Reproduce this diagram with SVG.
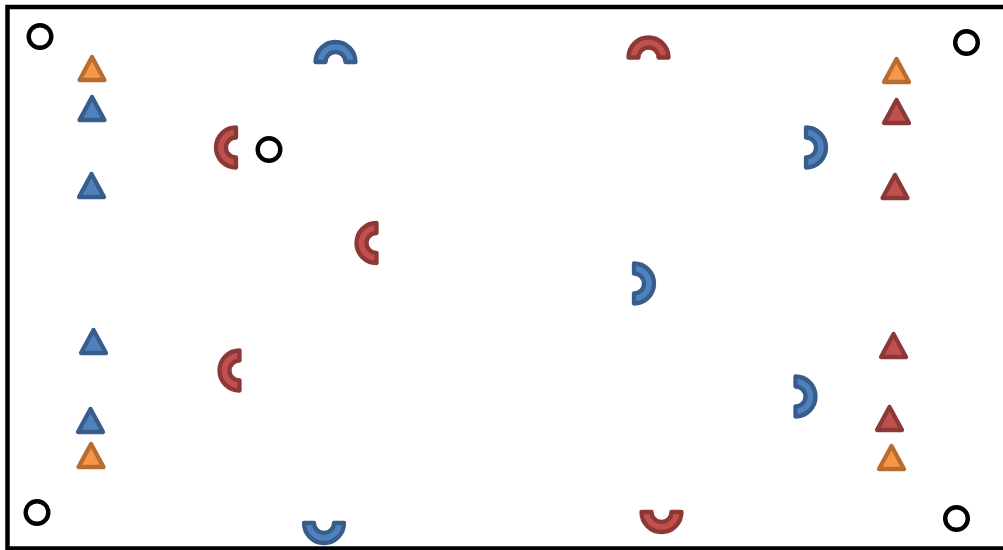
<svg xmlns="http://www.w3.org/2000/svg" xmlns:xlink="http://www.w3.org/1999/xlink" width="1003" height="550" viewBox="0 0 1003 550">
  <style>
    .frame { fill: none; stroke: #000; stroke-width: 4.5; }
    .ring { fill: none; stroke: #000; stroke-width: 4.4; }
    .shape { stroke-width: 4.3; stroke-linejoin: round; }
    .blue { fill: #4F81BD; stroke: #385D8A; }
    .red { fill: #C0504D; stroke: #8C3836; }
    .orange { fill: #F79646; stroke: #B66D31; }
  </style>
  <defs>
    <path id="tri" d="M0,0 L12.5,23 L-12.5,23 Z"/>
    <path id="arch" d="M-20,0 A20,20 0 0 1 20,0 L10,0 A10,10 0 0 0 -10,0 Z"/>
  </defs>
  <rect width="1003" height="550" fill="#fff"/>
  <rect id="field" class="frame" x="7.5" y="7" width="1000" height="541.5"/>

  <g id="markers">
    <circle id="c1" class="ring" cx="40" cy="36.5" r="11.3"/>
    <circle id="c2" class="ring" cx="966.5" cy="42.5" r="11.3"/>
    <circle id="c3" class="ring" cx="269" cy="149.5" r="11.3"/>
    <circle id="c4" class="ring" cx="37" cy="512.5" r="11.3"/>
    <circle id="c5" class="ring" cx="956.5" cy="518.5" r="11.3"/>
  </g>

  <g id="left-triangles">
    <use id="tL1" xlink:href="#tri" class="shape orange" transform="translate(92,57)"/>
    <use id="tL2" xlink:href="#tri" class="shape blue" transform="translate(92,97)"/>
    <use id="tL3" xlink:href="#tri" class="shape blue" transform="translate(91.5,174)"/>
    <use id="tL4" xlink:href="#tri" class="shape blue" transform="translate(93.5,330)"/>
    <use id="tL5" xlink:href="#tri" class="shape blue" transform="translate(90.5,409)"/>
    <use id="tL6" xlink:href="#tri" class="shape orange" transform="translate(91,444)"/>
  </g>

  <g id="right-triangles">
    <use id="tR1" xlink:href="#tri" class="shape orange" transform="translate(896.5,59)"/>
    <use id="tR2" xlink:href="#tri" class="shape red" transform="translate(896.5,100)"/>
    <use id="tR3" xlink:href="#tri" class="shape red" transform="translate(895,175)"/>
    <use id="tR4" xlink:href="#tri" class="shape red" transform="translate(893.5,334)"/>
    <use id="tR5" xlink:href="#tri" class="shape red" transform="translate(889.5,407)"/>
    <use id="tR6" xlink:href="#tri" class="shape orange" transform="translate(891.5,446)"/>
  </g>

  <g id="arches">
    <use id="a1" xlink:href="#arch" class="shape blue" transform="translate(335.5,62)"/>
    <use id="a2" xlink:href="#arch" class="shape red" transform="translate(648.5,57.5)"/>
    <use id="a3" xlink:href="#arch" class="shape red" transform="translate(236,147.5) rotate(-90)"/>
    <use id="a4" xlink:href="#arch" class="shape red" transform="translate(376.5,243) rotate(-90)"/>
    <use id="a5" xlink:href="#arch" class="shape red" transform="translate(239.5,370.5) rotate(-90)"/>
    <use id="a6" xlink:href="#arch" class="shape blue" transform="translate(806,147.5) rotate(90)"/>
    <use id="a7" xlink:href="#arch" class="shape blue" transform="translate(634,283.5) rotate(90)"/>
    <use id="a8" xlink:href="#arch" class="shape blue" transform="translate(795.5,396.5) rotate(90)"/>
    <use id="a9" xlink:href="#arch" class="shape blue" transform="translate(324,523) rotate(180)"/>
    <use id="a10" xlink:href="#arch" class="shape red" transform="translate(661.5,512) rotate(180)"/>
  </g>
</svg>
